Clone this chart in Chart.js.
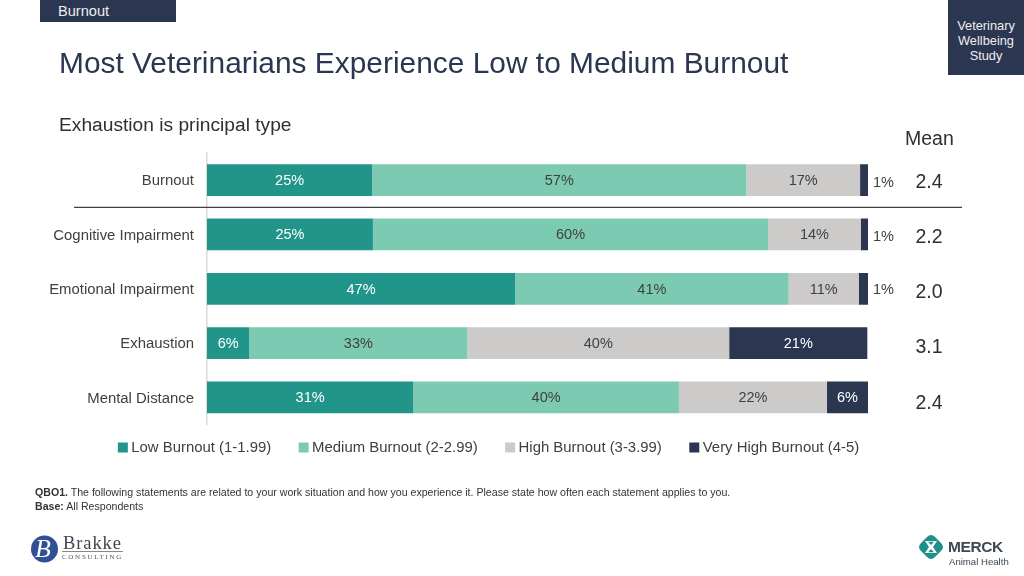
<!DOCTYPE html>
<html><head><meta charset="utf-8">
<style>
html,body{margin:0;padding:0;background:#fff;width:1024px;height:576px;overflow:hidden;font-family:"Liberation Sans",Arial,sans-serif}
#wrap{position:absolute;left:0;top:0;width:1024px;height:576px}
.t{position:absolute;white-space:nowrap}
</style></head><body>
<div id="wrap"><canvas id="c" width="1024" height="576"></canvas></div>
<div class="t" style="left:40px;top:0;width:136px;height:22px;background:#2b3651"></div>
<div class="t" style="left:58px;top:3px;font-size:14.6px;color:#eee">Burnout</div>
<div class="t" style="left:948px;top:0;width:76px;height:75px;background:#2b3651"></div>
<div class="t" style="left:948px;top:18px;width:76px;text-align:center;font-size:12.8px;line-height:15px;color:#eee">Veterinary<br>Wellbeing<br>Study</div>
<div class="t" style="left:59px;top:46px;font-size:29.9px;color:#2b3651">Most Veterinarians Experience Low to Medium Burnout</div>
<div class="t" style="left:59px;top:114px;font-size:19.2px;color:#2f2f2f">Exhaustion is principal type</div>
<div class="t" style="left:905px;top:127px;font-size:19.5px;color:#2f2f2f">Mean</div>
<div class="t" style="left:35px;top:486px;font-size:10.6px;line-height:13.5px;color:#333"><b>QBO1.</b> The following statements are related to your work situation and how you experience it. Please state how often each statement applies to you.<br><b>Base:</b> All Respondents</div>
<svg class="t" style="left:30px;top:534px" width="30" height="30" viewBox="0 0 30 30"><circle cx="14.5" cy="15" r="13.5" fill="#2f4f96"/></svg>
<div class="t" style="left:35px;top:534px;font:italic 26px 'Liberation Serif',serif;color:#fff">B</div>
<div class="t" style="left:63px;top:533px;font:18.5px 'Liberation Serif',serif;color:#40454f;letter-spacing:.9px">Brakke</div>
<div class="t" style="left:62px;top:551px;width:61px;border-top:1px solid #888"></div>
<div class="t" style="left:62px;top:553px;font:7px 'Liberation Serif',serif;color:#555;letter-spacing:1.7px">CONSULTING</div>
<svg class="t" style="left:919px;top:535px" width="24" height="24" viewBox="0 0 24 24"><path fill="#1f8f8a" d="M12 0 Q14 0 16 2 L22 8 Q24 10 24 12 Q24 14 22 16 L16 22 Q14 24 12 24 Q10 24 8 22 L2 16 Q0 14 0 12 Q0 10 2 8 L8 2 Q10 0 12 0 Z"/><path fill="#fff" d="M6 6 H18 L14 12 L18 18 H6 L10 12 Z"/><path fill="#1f8f8a" d="M9 6.8 H15 L12 10 Z M9 17.2 H15 L12 14 Z"/></svg>
<div class="t" style="left:948px;top:538px;font-size:15.5px;font-weight:bold;color:#3d4852;letter-spacing:-.4px">MERCK</div>
<div class="t" style="left:949px;top:556px;font-size:9.6px;color:#3d4852">Animal Health</div>
<script src="https://cdn.jsdelivr.net/npm/chart.js@4"></script>
<script>
const categories=["Burnout","Cognitive Impairment","Emotional Impairment","Exhaustion","Mental Distance"];
const seriesNames=["Low Burnout (1-1.99)","Medium Burnout (2-2.99)","High Burnout (3-3.99)","Very High Burnout (4-5)"];
const lowBurnout=[25,25.1,46.6,6.4,31.2];
const mediumBurnout=[56.6,59.8,41.4,33,40.2];
const highBurnout=[17.2,14,10.6,39.6,22.4];
const veryHighBurnout=[1.2,1.1,1.4,20.9,6.2];
const meanScores=["2.4","2.2","2.0","3.1","2.4"];
const seriesColors=["#21958a","#7ccab1","#cdcaca","#2b3651"];
const labelColors=["#ffffff","#404040","#404040","#ffffff"];
const font="'Liberation Sans',Arial,sans-serif";
const overlay={id:"overlay",
 afterLayout(ch){const l=ch.legend;l.left+=56.5;l.right+=56.5;l.top-=16;l.bottom-=16;},
 afterDatasetsDraw(ch){
  const g=ch.ctx,ys=ch.scales.y,xs=ch.scales.x;
  g.save();g.textBaseline="middle";
  ch.data.datasets.forEach((d,i)=>{
    const m=ch.getDatasetMeta(i);
    d.data.forEach((v,j)=>{
      const el=m.data[j];
      if(v<3){
        if(i===3){g.fillStyle="#404040";g.font="14.5px "+font;g.textAlign="left";
          g.fillText(Math.round(v)+"%",xs.right+5,el.y+(j<2?2.5:1));}
        return;
      }
      g.fillStyle=labelColors[i];g.font="14.5px "+font;g.textAlign="center";
      g.fillText(Math.round(v)+"%",(el.base+el.x)/2,el.y+1);
    });
  });
  g.fillStyle="#2f2f2f";g.font="19.5px "+font;g.textAlign="center";
  meanScores.forEach((s,j)=>g.fillText(s,929,ys.getPixelForValue(j)+2.5+j*.8));
  const sep=(ys.getPixelForValue(0)+ys.getPixelForValue(1))/2;
  g.strokeStyle="#404040";g.lineWidth=1.3;g.beginPath();g.moveTo(74,sep);g.lineTo(962,sep);g.stroke();
  g.restore();
}};
const sets=[lowBurnout,mediumBurnout,highBurnout,veryHighBurnout];
new Chart(document.getElementById("c"),{
  type:"bar",
  data:{labels:categories,datasets:sets.map((s,i)=>({label:seriesNames[i],data:s,backgroundColor:seriesColors[i],barPercentage:.765,categoryPercentage:.765,borderWidth:0}))},
  plugins:[overlay],
  options:{indexAxis:"y",responsive:false,animation:false,
    layout:{padding:{left:0,right:156,top:153,bottom:95}},
    scales:{
      x:{stacked:true,display:false,min:0,max:100},
      y:{stacked:true,afterFit(s){s.width=207},grid:{display:false,drawTicks:false},border:{color:"#d9d9d9",width:1.5},
        ticks:{padding:13,labelOffset:1,color:"#404040",font:{family:font,size:14.9}}}
    },
    plugins:{tooltip:{enabled:false},
      legend:{position:"bottom",labels:{boxWidth:2,boxHeight:2,padding:31.5,color:"#404040",font:{family:font,size:14.9},
        generateLabels(ch){const it=Chart.defaults.plugins.legend.labels.generateLabels(ch);it.forEach(i=>{i.lineWidth=8;i.strokeStyle=i.fillStyle;});return it;}}}}
  }
});
</script>
</body></html>
